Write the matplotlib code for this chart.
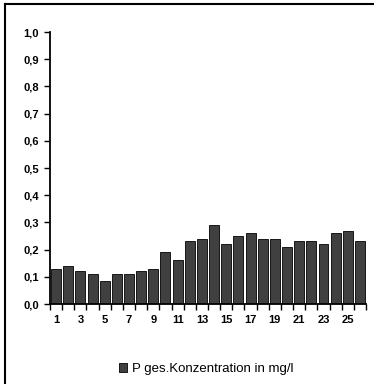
import matplotlib.pyplot as plt
from matplotlib.patches import Patch
from matplotlib.ticker import MultipleLocator, FuncFormatter

plt.rcParams['font.family'] = ['Liberation Sans', 'DejaVu Sans']

# Messstellen 1..26 und Phosphor-Gesamtkonzentration
stellen = list(range(1, 27))
p_ges = [0.13, 0.14, 0.12, 0.11, 0.085, 0.11, 0.11, 0.12, 0.13, 0.19,
         0.16, 0.23, 0.24, 0.29, 0.22, 0.25, 0.26, 0.24, 0.24, 0.21,
         0.23, 0.23, 0.22, 0.26, 0.27, 0.23]
legend_label = "P ges.Konzentration in mg/l"

fig = plt.figure(figsize=(3.74, 3.84), dpi=100)
ax = fig.add_axes([0.1337, 0.2083, 0.845, 0.7083])

ax.bar(stellen, p_ges, width=0.82, color='#404040', edgecolor='black', linewidth=0.6)

ax.set_xlim(0.5, 26.5)
ax.set_ylim(0, 1.0)
ax.yaxis.set_major_locator(MultipleLocator(0.1))
ax.yaxis.set_major_formatter(FuncFormatter(lambda v, p: f"{v:.1f}".replace('.', ',')))

# Kategorie-Grenzen als Ticks, Beschriftung nur jede zweite Stelle
ax.set_xticks([s + 0.5 for s in [0] + stellen])
ax.set_xticklabels([])
ax.set_xticks(stellen[::2], minor=True)
ax.set_xticklabels([str(s) for s in stellen[::2]], minor=True)
ax.tick_params(axis='x', which='major', direction='out', length=4, width=1)
ax.tick_params(axis='x', which='minor', length=0, pad=8, labelsize=8)
ax.tick_params(axis='y', direction='out', length=4, width=1, labelsize=8, pad=4)
for lab in ax.get_xticklabels(minor=True) + ax.get_yticklabels():
    lab.set_fontweight('bold')

for s in ['top', 'right']:
    ax.spines[s].set_visible(False)
for s in ['left', 'bottom']:
    ax.spines[s].set_linewidth(1.3)

fig.legend(handles=[Patch(facecolor='#404040', edgecolor='black', linewidth=0.6, label=legend_label)],
           loc='center', bbox_to_anchor=(0.552, 0.039), frameon=False, fontsize=9.5,
           handlelength=0.6, handleheight=0.6, handletextpad=0.35)

# Rahmen oben und links wie im Original
fig.add_artist(plt.Line2D([5/374, 5/374], [0, 1 - 4/384], color='black', linewidth=1.5,
                          transform=fig.transFigure))
fig.add_artist(plt.Line2D([5/374, 1], [1 - 4/384, 1 - 4/384], color='black', linewidth=1.5,
                          transform=fig.transFigure))

fig.savefig("out.png", dpi=100)
